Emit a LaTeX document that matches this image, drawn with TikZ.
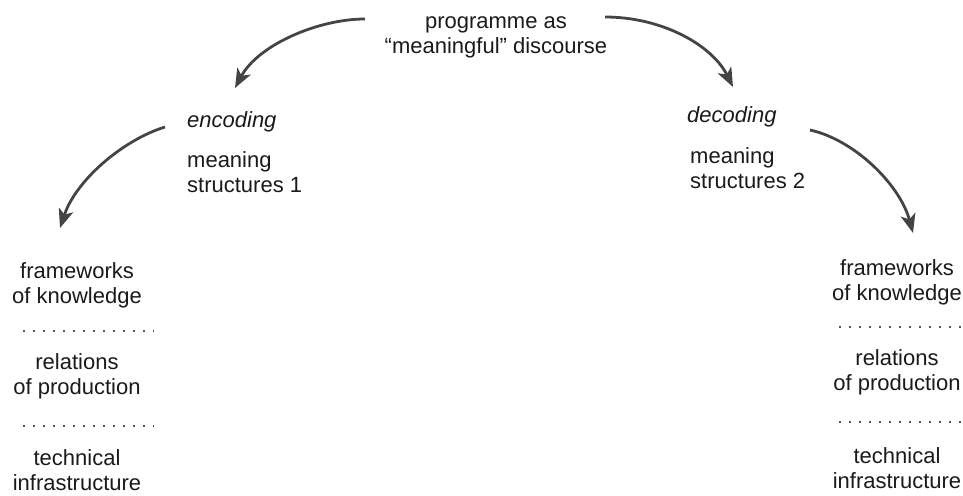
\documentclass[tikz,border=0pt]{standalone}
\usepackage{fontspec}
\setmainfont{Liberation Sans}
\usetikzlibrary{arrows.meta}

\definecolor{ink}{HTML}{1A1A1A}
\definecolor{arrowgray}{HTML}{444444}

\tikzset{
  lbl/.style={align=center,inner sep=0pt,font=\fontsize{22}{25}\selectfont,text=ink},
  lblleft/.style={lbl,align=left},
  curv/.style={draw=arrowgray,line width=2.8pt,-{Stealth[length=19pt,width=15pt,inset=5pt]}},
  sepline/.style={draw=ink!75,line width=2pt,dash pattern=on 2.2pt off 7.8pt}
}

\begin{document}
\begin{tikzpicture}[x=1pt,y=-1pt]
  \useasboundingbox (0,0) rectangle (963,495);
  % top (base = last line)
  \node[lbl,anchor=base] (prog) at (496,54) {programme as\\“meaningful” discourse};
  % encoding side
  \node[lblleft,anchor=base west] (enc) at (187,127) {\itshape encoding};
  \node[lblleft,anchor=base west] (ms1) at (187,192) {meaning\\structures 1};
  % decoding side
  \node[lblleft,anchor=base west] (dec) at (687,122) {\itshape decoding};
  \node[lblleft,anchor=base west] (ms2) at (690,188) {meaning\\structures 2};
  % left stack
  \node[lbl,anchor=base] (fk1) at (77,303) {frameworks\\of knowledge};
  \node[lbl,anchor=base] (rp1) at (77,394) {relations\\of production};
  \node[lbl,anchor=base] (ti1) at (77,490) {technical\\infrastructure};
  % right stack
  \node[lbl,anchor=base] (fk2) at (897,300) {frameworks\\of knowledge};
  \node[lbl,anchor=base] (rp2) at (897,390) {relations\\of production};
  \node[lbl,anchor=base] (ti2) at (897,488) {technical\\infrastructure};
  % dotted separators
  \foreach \y in {331,426} {
    \draw[sepline] (23,\y) -- (154,\y);
  }
  \foreach \y in {327,422} {
    \draw[sepline] (839,\y) -- (963,\y);
  }
  % arrow ends
  \coordinate (progL) at (365,19);
  \coordinate (progR) at (605,17);
  \coordinate (encIn) at (235,88);
  \coordinate (decIn) at (733,87);
  \coordinate (encOut) at (165,127);
  \coordinate (decOut) at (810,130);
  \coordinate (fkIn1) at (60,228);
  \coordinate (fkIn2) at (913,233);
  \draw[curv] (progL) .. controls (318,19) and (258,45) .. (encIn);
  \draw[curv] (progR) .. controls (662,17) and (712,45) .. (decIn);
  \draw[curv] (encOut) .. controls (123,140) and (76,180) .. (fkIn1);
  \draw[curv] (decOut) .. controls (855,140) and (900,185) .. (fkIn2);
\end{tikzpicture}
\end{document}
